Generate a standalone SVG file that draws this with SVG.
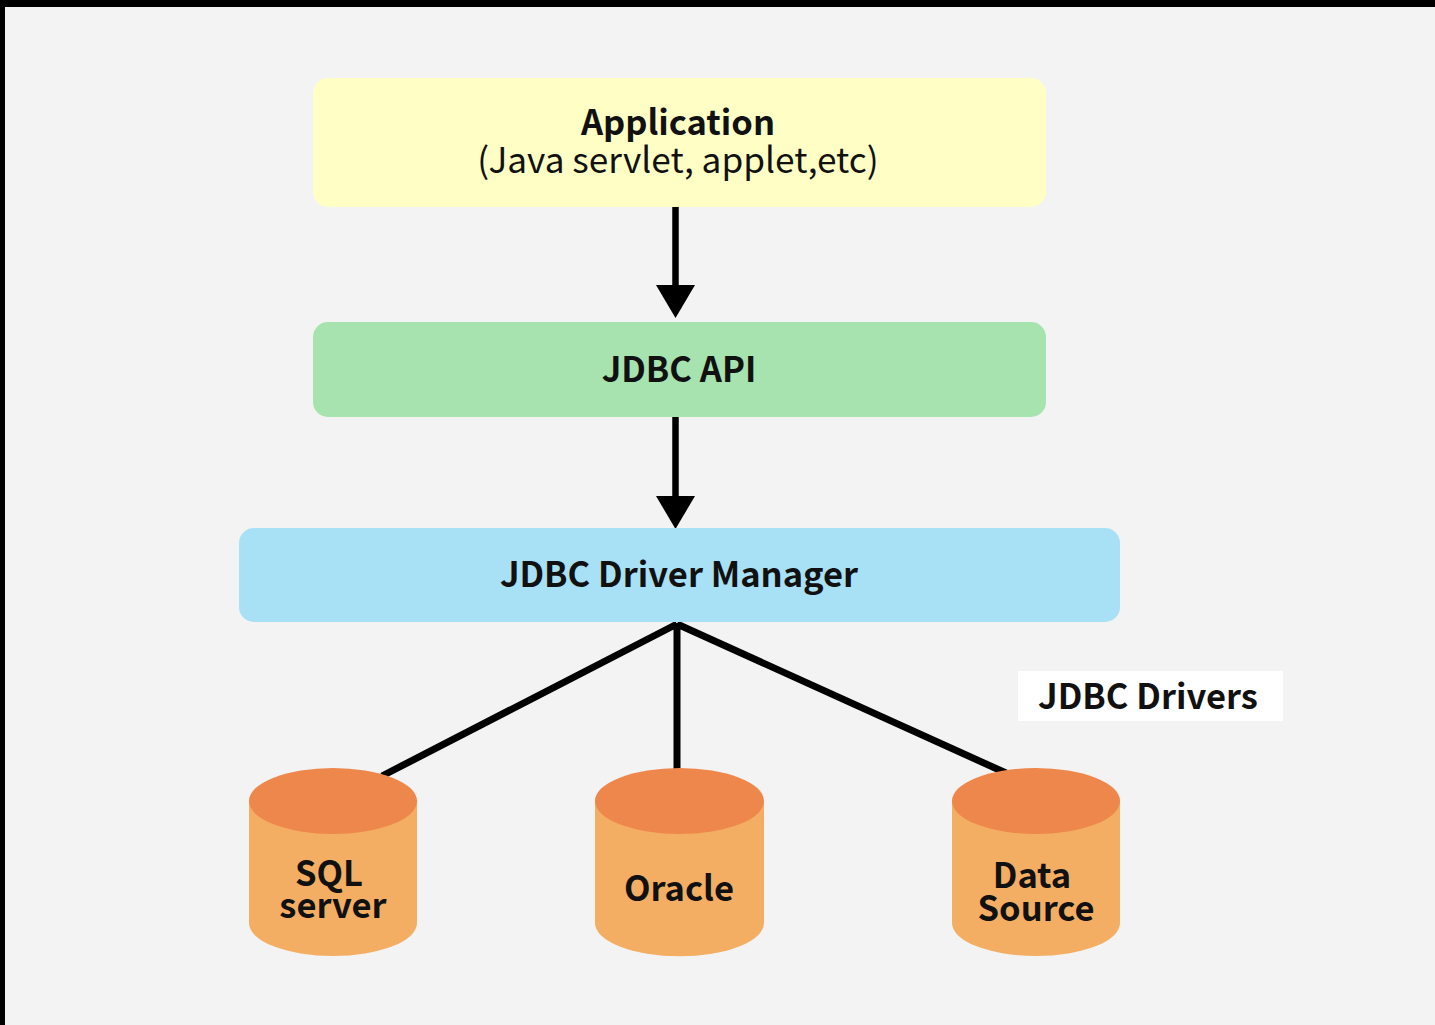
<svg xmlns="http://www.w3.org/2000/svg" width="1435" height="1025" viewBox="0 0 1435 1025">
<style>
text{font-family:"Noto Sans CJK SC","Noto Sans","Liberation Sans",sans-serif;fill:#111;text-anchor:middle;font-size:34.500px;font-weight:700}
.r{font-weight:400;font-size:35.200px}
.side{fill:#f3ae63}.top{fill:#ee874b}
.c{stroke:#000;fill:none;stroke-width:6.500}
.d{stroke-width:7}
</style>
<defs><marker id="a" markerUnits="userSpaceOnUse" markerWidth="34" markerHeight="40" refX="0" refY="20" orient="auto"><path d="M0 .5L33 20L0 39.500Z" fill="#000"/></marker></defs>
<rect width="1435" height="1025" fill="#000"/>
<rect x="5" y="7" width="1430" height="1018" fill="#f3f3f3"/>
<g id="connectors">
<path class="c" d="M675.500 206V285" marker-end="url(#a)"/>
<path class="c" d="M675.500 417V496" marker-end="url(#a)"/>
<path class="c d" d="M677 623V770M677 624L382 776M677 624L1006 773"/>
</g>
<g id="application"><rect x="313" y="78" width="733" height="129" rx="15" fill="#ffffc5"/><text x="678" y="135">Application</text><text class="r" x="678" y="173">(Java servlet, applet,etc)</text></g>
<g id="jdbc-api"><rect x="313" y="322" width="733" height="95" rx="15" fill="#a6e3af"/><text x="679" y="382">JDBC API</text></g>
<g id="driver-manager"><rect x="239" y="528" width="881" height="94" rx="15" fill="#a8e1f5"/><text x="679" y="587">JDBC Driver Manager</text></g>
<g id="jdbc-drivers"><rect x="1018" y="671" width="265" height="50" fill="#fff"/><text x="1148" y="709">JDBC Drivers</text></g>
<g id="sql-server"><path class="side" d="M249 801V923A84 33 0 0 0 417 923V801Z"/><ellipse class="top" cx="333" cy="801" rx="84" ry="33"/><text x="329" y="886">SQL</text><text x="333" y="918">server</text></g>
<g id="oracle"><path class="side" d="M595 801V923A84 33 0 0 0 764 923V801Z"/><ellipse class="top" cx="679.500" cy="801" rx="84.500" ry="33"/><text x="679" y="901">Oracle</text></g>
<g id="data-source"><path class="side" d="M952 801V923A84 33 0 0 0 1120 923V801Z"/><ellipse class="top" cx="1036" cy="801" rx="84" ry="33"/><text x="1032" y="888">Data</text><text x="1036" y="921">Source</text></g>
</svg>
